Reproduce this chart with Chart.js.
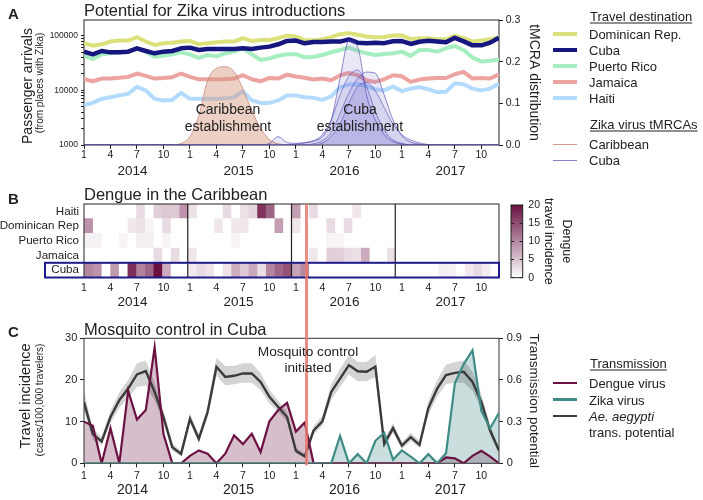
<!DOCTYPE html>
<html>
<head>
<meta charset="utf-8">
<title>Zika and dengue in the Caribbean</title>
<script src="https://cdn.jsdelivr.net/npm/chart.js@4.4.1/dist/chart.umd.min.js"></script>
<style>
  body { margin: 0; background: #fff; }
  #fig { position: relative; width: 703px; height: 500px; overflow: hidden;
         font-family: "Liberation Sans", Arial, sans-serif; color: #222; }
  #fig canvas { position: absolute; }
  .lt, .ct, .rt { position: absolute; line-height: 1; white-space: nowrap; }
  .lt { transform: translateY(-50%); }
  .ct { transform: translate(-50%, -50%); text-align: center; }
  .rt { transform: translate(-50%, -50%) rotate(-90deg); }
  .sw { position: absolute; left: 553px; width: 24px; }
  .hd { text-decoration: underline; text-underline-offset: 2px; }
  .lg { font-size: 13px; }
</style>
</head>
<body>
<div id="fig">
  <canvas id="chartA" width="703" height="185" style="left:0;top:0"></canvas>
  <canvas id="chartB" width="703" height="125" style="left:0;top:185px"></canvas>
  <canvas id="chartBar" width="80" height="125" style="left:500px;top:185px"></canvas>
  <canvas id="chartC" width="703" height="190" style="left:0;top:310px"></canvas>

  <!-- panel A text -->
  <div class="lt" style="left:8px;top:12.5px;font-size:15px;font-weight:bold">A</div>
  <div class="lt" style="left:84px;top:10px;font-size:16.5px">Potential for Zika virus introductions</div>
  <div class="rt" style="left:26.5px;top:86px;font-size:14px">Passenger arrivals</div>
  <div class="rt" style="left:40px;top:83px;font-size:10px">(from places with Zika)</div>
  <div class="ct" style="left:228px;top:109px;font-size:14px">Caribbean</div>
  <div class="ct" style="left:228px;top:126px;font-size:14px">establishment</div>
  <div class="ct" style="left:360px;top:109px;font-size:14px">Cuba</div>
  <div class="ct" style="left:360px;top:126px;font-size:14px">establishment</div>

  <div class="lt lg hd" style="left:590px;top:16px">Travel destination</div>
  <div class="sw" style="top:32px;height:4px;background:#dce27b"></div>
  <div class="lt lg" style="left:589px;top:34px">Dominican Rep.</div>
  <div class="sw" style="top:48px;height:4px;background:#16167f"></div>
  <div class="lt lg" style="left:589px;top:50px">Cuba</div>
  <div class="sw" style="top:64px;height:4px;background:#a6eec0"></div>
  <div class="lt lg" style="left:589px;top:66px">Puerto Rico</div>
  <div class="sw" style="top:80px;height:4px;background:#eca4a1"></div>
  <div class="lt lg" style="left:589px;top:82px">Jamaica</div>
  <div class="sw" style="top:96px;height:4px;background:#b3dbff"></div>
  <div class="lt lg" style="left:589px;top:98px">Haiti</div>
  <div class="lt lg hd" style="left:590px;top:124px">Zika virus tMRCAs</div>
  <div class="sw" style="top:143.5px;height:1px;background:#d59a8c"></div>
  <div class="lt lg" style="left:589px;top:144px">Caribbean</div>
  <div class="sw" style="top:159.5px;height:1px;background:#8a84cc"></div>
  <div class="lt lg" style="left:589px;top:160px">Cuba</div>

  <!-- panel B text -->
  <div class="lt" style="left:8px;top:197.5px;font-size:15px;font-weight:bold">B</div>
  <div class="lt" style="left:84px;top:193.5px;font-size:16.5px">Dengue in the Caribbean</div>

  <!-- panel C text -->
  <div class="lt" style="left:8px;top:331px;font-size:15px;font-weight:bold">C</div>
  <div class="lt" style="left:84px;top:329px;font-size:16.5px">Mosquito control in Cuba</div>
  <div class="rt" style="left:25px;top:396px;font-size:14.5px">Travel incidence</div>
  <div class="rt" style="left:40px;top:400px;font-size:10px">(cases/100,000 travelers)</div>
  <div class="ct" style="left:308px;top:352px;font-size:13.7px">Mosquito control</div>
  <div class="ct" style="left:308px;top:367.5px;font-size:13.7px">initiated</div>

  <div class="lt lg hd" style="left:590px;top:363px">Transmission</div>
  <div class="sw" style="top:381.7px;height:2.5px;background:#6c1242"></div>
  <div class="lt lg" style="left:589px;top:383px">Dengue virus</div>
  <div class="sw" style="top:398.2px;height:2.5px;background:#3f8b86"></div>
  <div class="lt lg" style="left:589px;top:399.5px">Zika virus</div>
  <div class="sw" style="top:414.7px;height:2.5px;background:#3a3a3a"></div>
  <div class="lt lg" style="left:589px;top:416px"><i>Ae. aegypti</i></div>
  <div class="lt lg" style="left:589px;top:432px">trans. potential</div>
</div>

<script>
// ---------- data (monthly, Jan 2014 - Dec 2017) ----------
const yearLabels = ['2014', '2015', '2016', '2017'];
const monthTickLabels = ['1', '4', '7', '10'];
const arrivalTicks = [1000, 10000, 100000];

// A: passenger arrivals from places with Zika
const domRep = [73000, 66000, 70000, 78500, 82000, 82000, 94500, 78500, 68000, 73000, 75000, 78500,
                80700, 70000, 73000, 76000, 78500, 78500, 90500, 80700, 84000, 84000, 90500, 101000,
                97000, 84300, 82000, 86800, 94500, 107000, 112000, 105000, 97000, 94500, 95000, 101000,
                102000, 87000, 90500, 90500, 87000, 87000, 100000, 90500, 79000, 82000, 87000, 93000];
const cuba = [51300, 45800, 52700, 49800, 49800, 51300, 59000, 52700, 47800, 51300, 52700, 59000,
              60800, 55100, 57500, 57500, 57500, 57500, 59000, 57500, 60800, 63400, 70000, 80700,
              82000, 73000, 77000, 77000, 79000, 78500, 86000, 75000, 73200, 75000, 73500, 79600,
              80000, 71000, 78000, 81000, 79000, 76000, 92000, 79000, 67000, 67000, 75000, 92000];
const puertoRico = [43200, 37500, 45800, 47800, 49800, 51300, 59000, 51300, 41500, 43200, 45800, 49800,
                    45800, 39600, 44500, 42000, 47800, 51300, 59000, 45800, 36000, 38600, 43200, 45800,
                    46000, 40300, 41500, 44500, 50000, 55100, 60800, 53500, 47800, 44500, 46400, 47800,
                    51300, 42900, 55100, 55100, 51300, 59100, 65000, 55100, 40000, 34000, 35000, 37000];
const jamaica = [16000, 14700, 16500, 16500, 17000, 17700, 20400, 18500, 16500, 16900, 17500, 20400,
                 17700, 16000, 16000, 16000, 16000, 16500, 19000, 16000, 14700, 16900, 16500, 19400,
                 18000, 17000, 15800, 16500, 15300, 19000, 20900, 19000, 15300, 14300, 16000, 19000,
                 18200, 14300, 15800, 16500, 16900, 16900, 19800, 21900, 16500, 16900, 16500, 19800];
const haiti = [5400, 5900, 7000, 7500, 8100, 8700, 11600, 10000, 7000, 6550, 6700, 9000,
               7000, 7000, 7000, 7000, 7200, 7500, 9600, 6550, 5900, 5900, 6550, 8100,
               8100, 7500, 7300, 6700, 7800, 11500, 12800, 13000, 12000, 10500, 10000, 11800,
               9700, 10800, 11500, 10500, 9300, 9500, 13500, 13000, 10800, 10000, 10800, 13300];

// A: Zika virus tMRCA distributions
const tmrcaCaribbean = [0, 0, 0, 0, 0, 0, 0, 0, 0, 0, 0, 0.004,
                        0.02, 0.07, 0.155, 0.184, 0.188, 0.176, 0.135, 0.083, 0.04, 0.013, 0.003, 0,
                        0, 0, 0, 0, 0, 0, 0, 0, 0, 0, 0, 0,
                        0, 0, 0, 0, 0, 0, 0, 0, 0, 0, 0, 0];
const tmrcaCuba1 = [0, 0, 0, 0, 0, 0, 0, 0, 0, 0, 0, 0,
                    0, 0, 0, 0, 0, 0, 0, 0, 0, 0.004, 0.02, 0.006,
                    0.004, 0.006, 0.01, 0.02, 0.06, 0.16, 0.25, 0.235, 0.12, 0.06, 0.025, 0.008,
                    0.002, 0, 0, 0, 0, 0, 0, 0, 0, 0, 0, 0];
const tmrcaCuba2 = [0, 0, 0, 0, 0, 0, 0, 0, 0, 0, 0, 0,
                    0, 0, 0, 0, 0, 0, 0, 0, 0, 0, 0, 0,
                    0.002, 0.005, 0.01, 0.025, 0.06, 0.12, 0.165, 0.18, 0.14, 0.08, 0.035, 0.012,
                    0.004, 0, 0, 0, 0, 0, 0, 0, 0, 0, 0, 0];
const tmrcaCuba3 = [0, 0, 0, 0, 0, 0, 0, 0, 0, 0, 0, 0,
                    0, 0, 0, 0, 0, 0, 0, 0, 0, 0, 0, 0,
                    0, 0, 0.003, 0.01, 0.03, 0.075, 0.125, 0.16, 0.175, 0.172, 0.12, 0.06,
                    0.022, 0.007, 0.002, 0, 0, 0, 0, 0, 0, 0, 0, 0];
const tmrcaCuba4 = [0, 0, 0, 0, 0, 0, 0, 0, 0, 0, 0, 0,
                    0, 0, 0, 0, 0, 0, 0, 0, 0, 0, 0, 0,
                    0, 0, 0, 0.005, 0.02, 0.05, 0.1, 0.14, 0.15, 0.13, 0.09, 0.05,
                    0.025, 0.012, 0.005, 0.001, 0, 0, 0, 0, 0, 0, 0, 0];

// B: dengue travel incidence by destination (Cuba row is dengueCuba)
const heatRows = ['Haiti', 'Dominican Rep', 'Puerto Rico', 'Jamaica', 'Cuba'];
const heatHaiti = [0, 0, 0, 0, 0, 0, 3, 0, 4, 4.5, 4.5, 9,
                   2.5, 0, 0, 0, 3, 0, 2.5, 3.5, 17, 13, 0, 0,
                   8, 0, 3, 0, 0, 0, 0, 2, 0, 0, 0, 0,
                   0, 0, 0, 0, 0, 0, 0, 0, 0, 0, 0, 0];
const heatDomRep = [9, 0, 0, 0, 0, 2, 2.5, 1, 0, 3, 0, 0,
                    0, 0, 0, 2, 0, 2, 2, 0, 0, 0, 8, 0,
                    2, 0, 0, 0, 3, 0, 3, 0, 0, 0, 0, 0,
                    0, 0, 0, 0, 0, 0, 0, 0, 0, 0, 0, 0];
const heatPuertoRico = [1.2, 1.2, 0, 0, 1, 0, 1.5, 1.5, 0, 1, 0, 0,
                        0, 0, 0, 0, 0, 1, 0, 0, 0, 0, 0, 0,
                        0, 0, 0, 0, 1, 1, 0, 0, 0, 0, 0, 0,
                        0, 0, 0, 0, 0, 0, 0, 0, 0, 0, 0, 0];
const heatJamaica = [0, 0, 0, 0, 0, 0, 0, 0, 3, 0, 3, 0,
                     2, 0, 0, 0, 0, 0, 0, 0, 0, 0, 0, 0,
                     0, 0, 2, 0, 4, 4, 3, 2.5, 7, 0, 0, 2.5,
                     0, 0, 0, 0, 0, 0, 0, 0, 0, 0, 0, 0];

// C: Cuba travel incidence (cases/100,000 travelers) and Ae. aegypti transmission potential
const dengueCuba = [10, 9, 0, 8.4, 0, 17.4, 10.5, 12.8, 27.8, 7, 0, 0,
                    1.8, 3.1, 2.3, 0, 2.3, 6.7, 4.6, 7.1, 2.7, 10.1, 12.8, 14.5,
                    7.6, 9.8, 0, 0, 0, 0, 0, 0, 0, 0, 0, 0,
                    0, 0, 0, 0, 0, 1.4, 1.2, 0, 1.8, 3.0, 1.6, 0];
const zikaCuba = [0, 0, 0, 0, 0, 0, 0, 0, 0, 0, 0, 0,
                  0, 0, 0, 0, 0, 0, 0, 0, 0, 0, 0, 0,
                  0, 0, 0, 0, 0, 6.6, 0, 2.2, 0, 5.4, 7.3, 0.9,
                  3.1, 1.6, 0, 2.2, 0, 2.4, 19.2, 23.8, 27.1, 12.6, 8.4, 12.1];
const aegypti = [0.44, 0.21, 0.157, 0.333, 0.454, 0.538, 0.64, 0.664, 0.514, 0.333, 0.116, 0.068,
                 0.32, 0.176, 0.369, 0.695, 0.622, 0.63, 0.647, 0.647, 0.586, 0.478, 0.405, 0.333,
                 0.09, 0.05, 0.236, 0.302, 0.514, 0.61, 0.707, 0.663, 0.659, 0.695, 0.14, 0.253,
                 0.128, 0.188, 0.133, 0.398, 0.538, 0.635, 0.651, 0.659, 0.586, 0.442, 0.236, 0.092];
const aegyptiLow = [0.38, 0.17, 0.13, 0.29, 0.40, 0.47, 0.55, 0.56, 0.45, 0.29, 0.09, 0.05,
                    0.29, 0.15, 0.33, 0.63, 0.56, 0.57, 0.58, 0.58, 0.53, 0.43, 0.37, 0.30,
                    0.07, 0.04, 0.21, 0.27, 0.46, 0.55, 0.64, 0.59, 0.59, 0.62, 0.11, 0.22,
                    0.10, 0.16, 0.11, 0.35, 0.48, 0.57, 0.58, 0.58, 0.52, 0.39, 0.20, 0.07];
const aegyptiHigh = [0.52, 0.25, 0.19, 0.38, 0.51, 0.60, 0.72, 0.74, 0.58, 0.38, 0.14, 0.09,
                     0.36, 0.21, 0.41, 0.76, 0.70, 0.70, 0.72, 0.72, 0.65, 0.53, 0.45, 0.37,
                     0.11, 0.07, 0.27, 0.34, 0.57, 0.68, 0.78, 0.73, 0.73, 0.78, 0.17, 0.29,
                     0.15, 0.22, 0.16, 0.45, 0.60, 0.71, 0.73, 0.74, 0.66, 0.50, 0.27, 0.11];

const controlMonth = 25.2;   // mosquito control initiated (Feb 2016)
const colorMax = 20;

// ---------- helpers ----------
Chart.defaults.font.family = '"Liberation Sans", Arial, sans-serif';
Chart.defaults.color = '#222';
Chart.defaults.animation = false;
Chart.defaults.events = [];
Chart.defaults.plugins.legend.display = false;
Chart.defaults.plugins.tooltip.enabled = false;
Chart.defaults.elements.point.radius = 0;

const pts = arr => arr.map((y, x) => ({ x, y }));
const lastMonth = domRep.length - 1;
const monthTicks = yearLabels.flatMap((_, y) => monthTickLabels.map((_, m) => y * 12 + m * 3));
const yearTicks = yearLabels.map((_, y) => y * 12 + 5.5);

function heatColor(v) {
  const t = Math.min(v, colorMax) / colorMax;
  const lo = [255, 255, 255], hi = [106, 16, 66];
  const c = lo.map((l, k) => Math.round(l + (hi[k] - l) * t));
  return `rgb(${c.join(',')})`;
}

function timeAxes(o) {
  return {
    x: {
      type: 'linear', position: 'bottom', min: 0, max: lastMonth, weight: 0,
      afterBuildTicks: s => { s.ticks = monthTicks.map(value => ({ value })); },
      afterFit: s => { s.height = o.xh; },
      ticks: { autoSkip: false, maxRotation: 0, padding: o.pad, font: { size: 10.5 },
               callback: (v, i) => monthTickLabels[i % monthTickLabels.length] },
      grid: { drawOnChartArea: false, drawTicks: o.tick > 0, tickLength: o.tick, color: '#222' },
      border: { display: false }
    },
    x2: {
      type: 'linear', position: 'bottom', min: 0, max: lastMonth, weight: 1,
      afterBuildTicks: s => { s.ticks = yearTicks.map(value => ({ value })); },
      afterFit: s => { s.height = o.x2h; },
      ticks: { autoSkip: false, maxRotation: 0, padding: 0, font: { size: o.yearSize },
               callback: (v, i) => yearLabels[i] },
      grid: { display: false, drawTicks: false },
      border: { display: false }
    }
  };
}

// box around the plot area
const framePlugin = {
  id: 'frame',
  beforeDatasetsDraw(chart, args, opts) { if (!opts.after) drawFrame(chart, opts); },
  afterDatasetsDraw(chart, args, opts) { if (opts.after) drawFrame(chart, opts); }
};
function drawFrame(chart, opts) {
  const { ctx, chartArea: a } = chart;
  ctx.save();
  ctx.strokeStyle = opts.color || '#222';
  ctx.lineWidth = 1;
  ctx.strokeRect(a.left, a.top, a.right - a.left, a.bottom - a.top);
  ctx.restore();
}

function controlLine(chart, y0, y1) {
  const { ctx, scales: { x } } = chart;
  const px = x.getPixelForValue(controlMonth);
  ctx.save();
  ctx.strokeStyle = 'rgba(229,120,110,0.85)';
  ctx.lineWidth = 3;
  ctx.beginPath(); ctx.moveTo(px, y0); ctx.lineTo(px, y1); ctx.stroke();
  ctx.restore();
}

// ---------- A ----------
function travel(data, color, order, width) {
  return { data: pts(data), yAxisID: 'y', borderColor: color, borderWidth: width || 4,
           borderJoinStyle: 'round', fill: false, order };
}
function tmrca(data, fillColor, lineColor, order) {
  return { data: pts(data), yAxisID: 'yR', borderColor: lineColor, borderWidth: 0.8,
           backgroundColor: fillColor, fill: 'origin', cubicInterpolationMode: 'monotone', order };
}
const logMax = 195000;
const cubaFill = 'rgba(120,110,205,0.16)';
const cubaEdge = 'rgba(70,60,175,0.75)';

new Chart(document.getElementById('chartA'), {
  type: 'line',
  data: { datasets: [
    travel(haiti, '#b3dbff', 15),
    travel(jamaica, '#eca4a1', 14),
    travel(puertoRico, '#a6eec0', 13),
    travel(domRep, '#dce27b', 12),
    travel(cuba, '#16167f', 11, 4.5),
    tmrca(tmrcaCaribbean, 'rgba(215,150,125,0.45)', '#c9897a', 5),
    tmrca(tmrcaCuba4, cubaFill, cubaEdge, 4),
    tmrca(tmrcaCuba3, cubaFill, cubaEdge, 3),
    tmrca(tmrcaCuba2, cubaFill, cubaEdge, 2),
    tmrca(tmrcaCuba1, cubaFill, cubaEdge, 1)
  ] },
  options: {
    responsive: false,
    layout: { padding: { left: 0, right: 156.6, top: 20, bottom: 0 } },
    scales: {
      ...timeAxes({ tick: 4, pad: 0, xh: 18, x2h: 22, yearSize: 13.5 }),
      y: {
        type: 'logarithmic', position: 'left', min: arrivalTicks[0], max: logMax,
        afterBuildTicks: s => {
          s.ticks = arrivalTicks.flatMap(d => [1, 2, 3, 4, 5, 6, 7, 8, 9].map(k => d * k))
            .filter(v => v <= logMax).map(value => ({ value }));
        },
        afterFit: s => { s.width = 84; },
        ticks: { autoSkip: false, padding: 3, font: { size: 8.5 },
                 callback: v => arrivalTicks.includes(v) ? String(v) : '' },
        grid: { drawOnChartArea: false, tickLength: 3, color: '#222' },
        border: { display: false }
      },
      yR: {
        type: 'linear', position: 'right', min: 0, max: 0.3,
        afterBuildTicks: s => { s.ticks = [0, 0.1, 0.2, 0.3].map(value => ({ value })); },
        afterFit: s => { s.width = 47.4; },
        ticks: { padding: 2.7, font: { size: 10.5 }, callback: v => v.toFixed(1) },
        grid: { drawOnChartArea: false, tickLength: 4, color: '#222' },
        border: { display: false },
        title: { display: true, text: 'tMCRA distribution', font: { size: 14 }, color: '#222',
                 padding: { top: 4, bottom: 0 } }
      }
    },
    plugins: { frame: { color: '#222' } }
  },
  plugins: [framePlugin]
});

// ---------- B ----------
const heatValues = [heatHaiti, heatDomRep, heatPuertoRico, heatJamaica, dengueCuba];
const cellW = lastMonth / heatHaiti.length;

const heatPlugin = {
  id: 'heatExtras',
  afterDatasetsDraw(chart) {
    const { ctx, chartArea: a, scales: { x, y } } = chart;
    ctx.save();
    ctx.strokeStyle = '#222';
    ctx.lineWidth = 1.2;
    for (let k = 1; k < yearLabels.length; k++) {
      const px = x.getPixelForValue(k * 12 * cellW);
      ctx.beginPath(); ctx.moveTo(px, a.top); ctx.lineTo(px, a.bottom); ctx.stroke();
    }
    const rowH = (a.bottom - a.top) / heatRows.length;
    const cy = y.getPixelForValue(heatRows.length - 1);
    ctx.strokeStyle = '#1d1a8a';
    ctx.lineWidth = 2;
    ctx.strokeRect(45, cy - rowH / 2, a.right - 45, rowH);
    ctx.restore();
    controlLine(chart, a.top, chart.height);
  }
};

new Chart(document.getElementById('chartB'), {
  type: 'bar',
  data: {
    labels: heatRows,
    datasets: heatHaiti.map((_, m) => ({
      data: heatRows.map(() => [m * cellW, (m + 1) * cellW]),
      backgroundColor: heatValues.map(r => heatColor(r[m])),
      borderWidth: 0, grouped: false, barPercentage: 1, categoryPercentage: 1
    }))
  },
  options: {
    indexAxis: 'y',
    responsive: false,
    layout: { padding: { left: 0, right: 204, top: 19, bottom: 0 } },
    scales: {
      ...timeAxes({ tick: 0, pad: 4.2, xh: 16.4, x2h: 16.1, yearSize: 13.5 }),
      y: {
        type: 'category', position: 'left',
        afterFit: s => { s.width = 84; },
        ticks: { autoSkip: false, padding: 5, font: { size: 11.6 } },
        grid: { display: false, drawTicks: false },
        border: { display: false }
      }
    },
    plugins: { frame: { color: '#222', after: true } }
  },
  plugins: [framePlugin, heatPlugin]
});

// colour bar
new Chart(document.getElementById('chartBar'), {
  type: 'bar',
  data: { labels: [''], datasets: [{
    data: [colorMax],
    backgroundColor: ctx => {
      const a = ctx.chart.chartArea;
      if (!a) return 'transparent';
      const g = ctx.chart.ctx.createLinearGradient(0, a.bottom, 0, a.top);
      g.addColorStop(0, heatColor(0));
      g.addColorStop(1, heatColor(colorMax));
      return g;
    },
    borderWidth: 0, barPercentage: 1, categoryPercentage: 1
  }] },
  options: {
    responsive: false,
    layout: { padding: { left: 11, right: 0, top: 20, bottom: 32.3 } },
    scales: {
      x: { display: false },
      y: {
        position: 'right', min: 0, max: colorMax,
        afterFit: s => { s.width = 57.3; },
        ticks: { stepSize: 5, padding: 5.6, font: { size: 10.5 } },
        grid: { drawOnChartArea: true, drawTicks: false, color: '#222', z: 1 },
        border: { display: false, dash: [3, 5.7] },
        title: { display: true, text: ['Dengue', 'travel incidence'], color: '#222',
                 font: { size: 12.5, lineHeight: 1.45 }, padding: { top: 4, bottom: 0 } }
      }
    },
    plugins: { frame: { color: '#222', after: true } }
  },
  plugins: [framePlugin]
});

// ---------- C ----------
new Chart(document.getElementById('chartC'), {
  type: 'line',
  data: { datasets: [
    { data: pts(dengueCuba), yAxisID: 'y', fill: 'origin', backgroundColor: 'rgba(110,20,70,0.28)',
      borderColor: 'transparent', borderWidth: 0, order: 7 },
    { data: pts(zikaCuba), yAxisID: 'y', fill: 'origin', backgroundColor: 'rgba(63,139,134,0.28)',
      borderColor: 'transparent', borderWidth: 0, order: 6 },
    { data: pts(aegyptiHigh), yAxisID: 'yR', fill: '+1', backgroundColor: 'rgba(0,0,0,0.17)',
      borderColor: 'transparent', borderWidth: 0, order: 5 },
    { data: pts(aegyptiLow), yAxisID: 'yR', fill: false,
      borderColor: 'transparent', borderWidth: 0, order: 5 },
    { data: pts(aegypti), yAxisID: 'yR', borderColor: '#3a3a3a', borderWidth: 2.4, fill: false, order: 3 },
    { data: pts(dengueCuba), yAxisID: 'y', borderColor: '#6c1242', borderWidth: 2.2, fill: false, order: 2 },
    { data: pts(zikaCuba), yAxisID: 'y', borderColor: '#3f8b86', borderWidth: 2.2, fill: false, order: 1 }
  ] },
  options: {
    responsive: false,
    layout: { padding: { left: 0, right: 156.9, top: 28.3, bottom: 0 } },
    scales: {
      ...timeAxes({ tick: 4, pad: 2.1, xh: 18.3, x2h: 18.4, yearSize: 14 }),
      y: {
        type: 'linear', position: 'left', min: 0, max: 30,
        afterBuildTicks: s => { s.ticks = [0, 10, 20, 30].map(value => ({ value })); },
        afterFit: s => { s.width = 84; },
        ticks: { padding: 2.7, font: { size: 11 } },
        grid: { drawOnChartArea: false, tickLength: 4, color: '#222' },
        border: { display: false }
      },
      yR: {
        type: 'linear', position: 'right', min: 0, max: 0.9,
        afterBuildTicks: s => { s.ticks = [0, 0.3, 0.6, 0.9].map(value => ({ value })); },
        afterFit: s => { s.width = 47.1; },
        ticks: { padding: 3.7, font: { size: 11 }, callback: v => v === 0 ? '0' : v.toFixed(1) },
        grid: { drawOnChartArea: false, tickLength: 4, color: '#222' },
        border: { display: false },
        title: { display: true, text: 'Transmission potential', font: { size: 13.5 }, color: '#222',
                 padding: { top: 4, bottom: 0 } }
      }
    },
    plugins: { frame: { color: '#333' } }
  },
  plugins: [framePlugin, {
    id: 'control',
    afterDatasetsDraw(chart) { controlLine(chart, 0, chart.chartArea.bottom + 2); }
  }]
});
</script>
</body>
</html>
